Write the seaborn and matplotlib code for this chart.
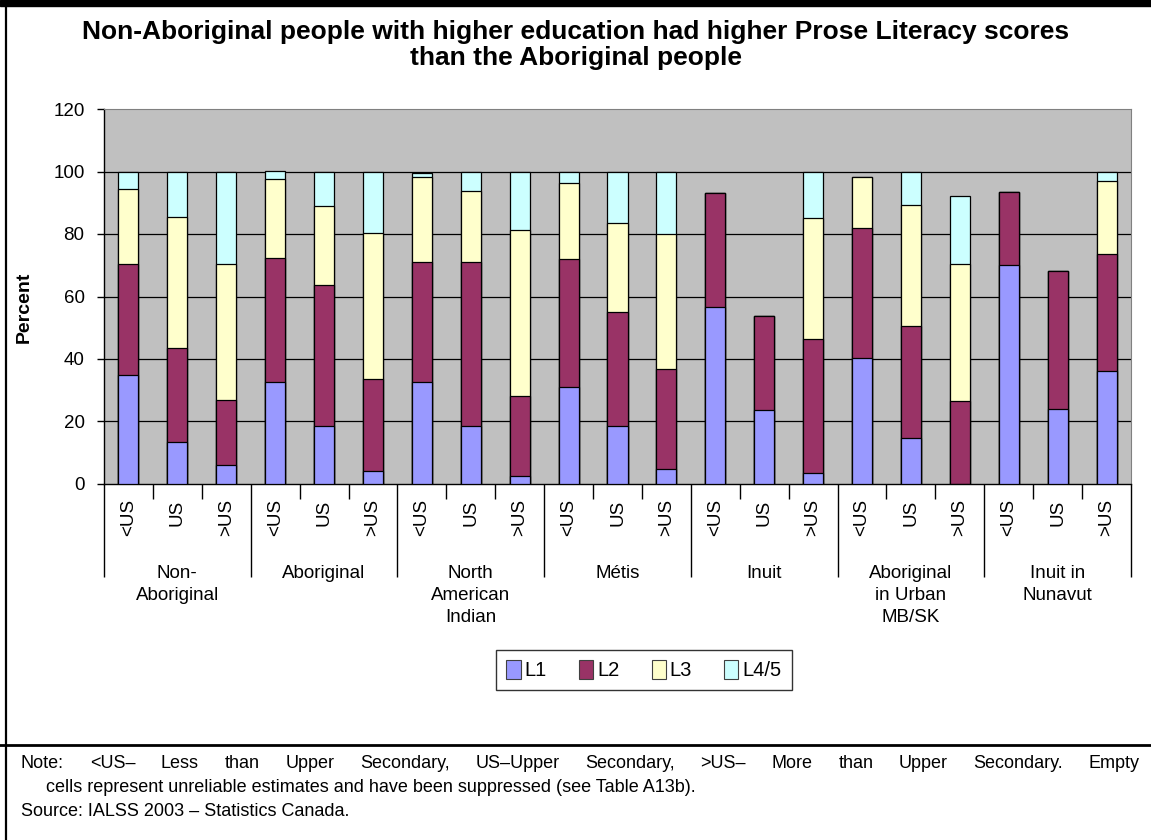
import numpy as np
import pandas as pd
import matplotlib.pyplot as plt
import seaborn as sns
from matplotlib.patches import Patch, Rectangle
from matplotlib.lines import Line2D

# Data (percent per literacy level, NaN = suppressed)
groups = ["Non-\nAboriginal", "Aboriginal", "North\nAmerican\nIndian", "Métis",
          "Inuit", "Aboriginal\nin Urban\nMB/SK", "Inuit in\nNunavut"]
education = ["<US", "US", ">US"]
levels = ["L1", "L2", "L3", "L4/5"]

l1 = [35.0, 13.4, 6.1, 32.8, 18.7, 4.0, 32.8, 18.7, 2.6, 31.0, 18.7, 4.8,
      56.6, 23.7, 3.4, 40.4, 14.7, np.nan, 70.1, 24.0, 36.3]
l2 = [35.5, 30.2, 20.8, 39.6, 45.1, 29.7, 38.1, 52.2, 25.6, 40.9, 36.5, 32.0,
      36.5, 30.1, 42.9, 41.5, 36.0, 26.5, 23.5, 44.3, 37.4]
l3 = [23.8, 41.8, 43.6, 25.2, 25.2, 46.7, 27.2, 22.8, 53.2, 24.3, 28.3, 43.2,
      np.nan, np.nan, 38.7, 16.2, 38.7, 44.0, np.nan, np.nan, 23.4]
l45 = [5.7, 14.6, 29.5, 2.4, 11.0, 19.6, 1.3, 6.3, 18.6, 3.8, 16.5, 20.0,
       np.nan, np.nan, 15.0, np.nan, 10.6, 21.6, np.nan, np.nan, 2.9]

colors = ["#9999FF", "#993366", "#FFFFCC", "#CCFFFF"]

plt.rcParams['font.family'] = ['Liberation Sans', 'DejaVu Sans']

# Build table
cats = [f"{g}|{e}" for g in groups for e in education]
df = pd.DataFrame({"cat": cats, "L1": l1, "L2": l2, "L3": l3, "L4/5": l45}).fillna(0)
cum = df[levels].cumsum(axis=1)

W, H = 1151, 840
fig = plt.figure(figsize=(W / 100, H / 100), dpi=100)
ax = fig.add_axes([104 / W, 1 - 484 / H, (1131 - 104) / W, (484 - 109) / H])
ax.set_facecolor("#C0C0C0")

# Stacked bars: draw cumulative totals from the top level down
for lvl, col in zip(levels[::-1], colors[::-1]):
    sns.barplot(x=df["cat"], y=cum[lvl], order=cats, color=col, width=0.41,
                edgecolor="black", linewidth=0.9, saturation=1, ax=ax, zorder=3)

ax.set_ylim(0, 120)
ax.set_xlim(-0.5, len(cats) - 0.5)
ax.set_yticks(range(0, 121, 20))
ax.tick_params(axis="y", labelsize=13.5, length=5, width=1, color="black", pad=9)
for y in range(20, 101, 20):
    ax.axhline(y, color="black", lw=0.9, zorder=1)
for side in ["top", "right"]:
    ax.spines[side].set_color("#808080")
for side in ["left", "bottom"]:
    ax.spines[side].set_color("black")
    ax.spines[side].set_linewidth(1)
ax.set_xlabel("")
ax.set_ylabel("Percent", fontsize=14, fontweight="bold")
ax.yaxis.set_label_coords((33 - 104) / 1027, (484 - 307) / 375)

# Two-level category axis
ax.set_xticks(np.arange(-0.5, len(cats), 3))
ax.set_xticks([b - 0.5 for b in range(len(cats)) if b % 3 != 0], minor=True)
ax.set_xticklabels([])
ax.tick_params(axis="x", which="major", length=67, width=1, color="black")
ax.tick_params(axis="x", which="minor", length=11, width=1, color="black")
for i, c in enumerate(cats):
    ax.annotate(c.split("|")[1], xy=(i, 0), xycoords=("data", "axes fraction"),
                xytext=(0, -11), textcoords="offset points", rotation=90,
                ha="center", va="top", fontsize=13.5)
for k, g in enumerate(groups):
    ax.annotate(g, xy=(3 * k + 1, 0), xycoords=("data", "axes fraction"),
                xytext=(0, -58), textcoords="offset points", ha="center",
                va="top", fontsize=13.5, linespacing=1.42)

# Legend
handles = [Patch(facecolor=c, edgecolor="#404040", lw=0.8) for c in colors]
leg = fig.legend(handles, levels, loc="center", bbox_to_anchor=(644 / W, 1 - 670 / H),
                 ncol=4, fontsize=14.5, frameon=True, fancybox=False, edgecolor="black",
                 handlelength=0.7, handleheight=1.05, handletextpad=0.2,
                 columnspacing=1.6, borderpad=0.5)
leg.get_frame().set_linewidth(1)

# Title
fig.text(0.5, 1 - 32 / H, "Non-Aboriginal people with higher education had higher Prose Literacy scores",
         ha="center", va="center", fontsize=19, fontweight="bold")
fig.text(0.5, 1 - 58 / H, "than the Aboriginal people",
         ha="center", va="center", fontsize=19, fontweight="bold")

# Frame lines
fig.patches.append(Rectangle((0, 1 - 6 / H), 1, 6 / H, transform=fig.transFigure,
                             color="black", zorder=10))
fig.lines.append(Line2D([6 / W, 6 / W], [0, 1], transform=fig.transFigure, color="black", lw=1.6))
fig.lines.append(Line2D([0, 1], [1 - 745 / H, 1 - 745 / H], transform=fig.transFigure,
                        color="black", lw=2))

# Notes, first line justified
note1 = ("Note: <US– Less than Upper Secondary, US–Upper Secondary, >US– More than "
         "Upper Secondary. Empty").split(" ")
fig.canvas.draw()
renderer = fig.canvas.get_renderer()
word_texts = [fig.text(0, 1 - 764 / H, w, ha="left", va="center", fontsize=13) for w in note1]
widths = [t.get_window_extent(renderer).width for t in word_texts]
x0, x1 = 21, 1140
gap = (x1 - x0 - sum(widths)) / (len(widths) - 1)
x = x0
for t, w in zip(word_texts, widths):
    t.set_x(x / W)
    x += w + gap
fig.text(46 / W, 1 - 788 / H,
         "cells represent unreliable estimates and have been suppressed (see Table A13b).",
         ha="left", va="center", fontsize=13)
fig.text(21 / W, 1 - 812 / H, "Source: IALSS 2003 – Statistics Canada.",
         ha="left", va="center", fontsize=13)

fig.savefig("out.png", dpi=100)
